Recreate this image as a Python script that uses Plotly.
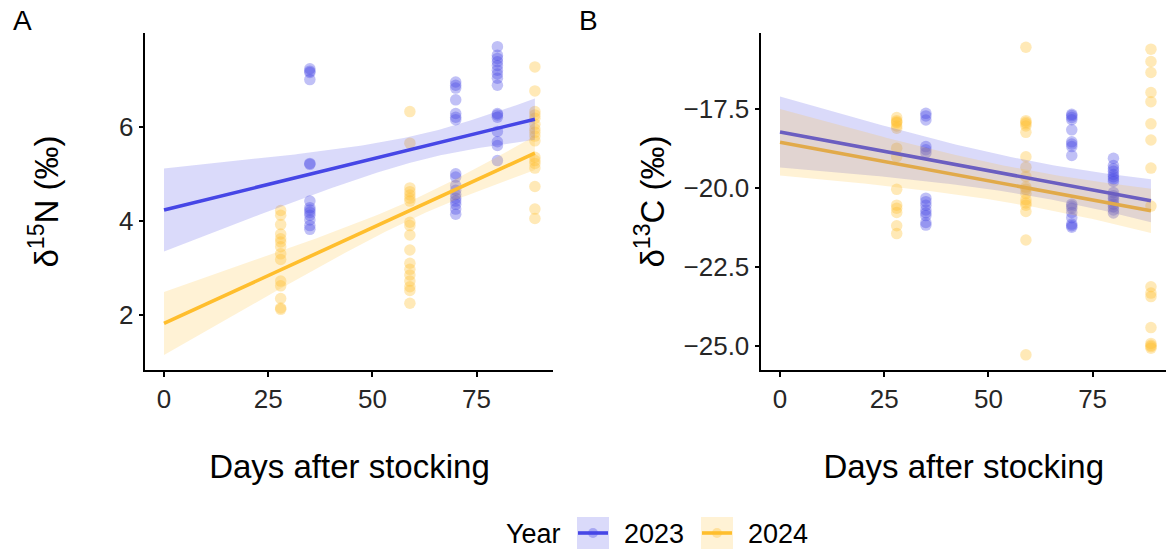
import numpy as np
import plotly.graph_objects as go

# ---------------- data ----------------
# Panel A: d15N, Panel B: d13C ; 2023 sampled on days 35, 70, 80 ; 2024 on 28, 59, 89
n15_2023_day35 = [7.23, 7.18, 7.15, 7.00, 5.22, 5.20, 4.42, 4.28, 4.23, 4.18, 4.12, 4.02, 3.90, 3.82]
n15_2023_day70 = [6.95, 6.88, 6.82, 6.57, 6.28, 6.20, 6.15, 5.00, 4.93, 4.75, 4.65, 4.56, 4.48, 4.42, 4.35, 4.25, 4.14]
n15_2023_day80 = [7.70, 7.52, 7.45, 7.38, 7.30, 7.20, 7.12, 7.03, 6.88, 6.28, 6.25, 6.20, 5.90, 5.68, 5.60, 5.28]
n15_2024_day28 = [4.22, 4.12, 3.92, 3.72, 3.62, 3.55, 3.45, 3.30, 3.18, 2.72, 2.62, 2.35, 2.15, 2.12]
n15_2024_day59 = [6.32, 5.65, 4.70, 4.62, 4.55, 4.48, 4.42, 3.97, 3.90, 3.70, 3.38, 3.10, 2.97, 2.85, 2.72, 2.60, 2.52, 2.25]
n15_2024_day89 = [7.27, 6.76, 6.32, 6.25, 6.18, 6.05, 5.95, 5.88, 5.80, 5.70, 5.35, 5.28, 5.22, 5.12, 4.73, 4.25, 4.05]

c13_2023_day35 = [-17.65, -17.73, -17.86, -18.70, -18.80, -18.90, -20.33, -20.44, -20.55, -20.70, -20.80, -20.88, -21.10, -21.18]
c13_2023_day70 = [-17.68, -17.72, -17.78, -17.85, -18.17, -18.55, -18.62, -18.70, -18.98, -20.52, -20.58, -20.65, -20.78, -20.95, -21.15, -21.20, -21.25]
c13_2023_day80 = [-19.07, -19.30, -19.40, -19.48, -19.58, -19.65, -19.72, -19.80, -20.15, -20.25, -20.33, -20.42, -20.52, -20.60, -20.70, -20.80]
c13_2024_day28 = [-17.78, -17.88, -17.92, -17.95, -18.05, -18.12, -18.75, -19.02, -20.05, -20.55, -20.65, -20.78, -21.20, -21.45]
c13_2024_day59 = [-15.56, -17.88, -17.93, -17.98, -18.05, -18.25, -19.02, -19.35, -19.65, -19.98, -20.05, -20.18, -20.38, -20.48, -20.55, -20.75, -21.65, -25.28]
c13_2024_day89 = [-15.62, -16.01, -16.36, -16.99, -17.28, -17.98, -18.49, -19.38, -20.58, -23.13, -23.33, -23.44, -24.42, -24.92, -24.98, -25.02, -25.07]

# fitted linear trends (values read at day 0 and day 89) and CI half-widths at those days
fit_days = [0, 89]
fitA_2023 = [4.23, 6.16]
fitA_2024 = [1.82, 5.44]
fitB_2023 = [-18.24, -20.41]
fitB_2024 = [-18.56, -20.73]
ciA_2023 = [0.88, 0.44]
ciA_2024 = [0.67, 0.36]
ciB_2023 = [1.12, 0.68]
ciB_2024 = [1.05, 0.70]

x_ticks = [0, 25, 50, 75]
yA_ticks = [2, 4, 6]
yB_ticks = [-25.0, -22.5, -20.0, -17.5]

# ---------------- styling ----------------
W, H = 1166, 552
BLUE = (70, 70, 230)
YEL = (255, 190, 45)
FONT = "Liberation Sans, Arial, sans-serif"


def rgba(c, a):
    return f"rgba({c[0]},{c[1]},{c[2]},{a})"


def px(x):
    return x / W


def py(y):
    return (H - y) / H


def stack(groups):
    xs, ys = [], []
    for d, vals in groups:
        xs += [d] * len(vals)
        ys += vals
    return np.array(xs, float), np.array(ys, float)


def band(xdata, fit, ci):
    c = float(np.mean(xdata))
    x0, x1 = fit_days
    k = (ci[0] ** 2 - ci[1] ** 2) / ((x0 - c) ** 2 - (x1 - c) ** 2)
    m2 = max(ci[1] ** 2 - k * (x1 - c) ** 2, 0.0)
    xx = np.linspace(x0, x1, 120)
    yy = np.interp(xx, fit_days, fit)
    hw = np.sqrt(m2 + k * (xx - c) ** 2)
    return xx, yy - hw, yy + hw


xA23, yA23 = stack([(35, n15_2023_day35), (70, n15_2023_day70), (80, n15_2023_day80)])
xA24, yA24 = stack([(28, n15_2024_day28), (59, n15_2024_day59), (89, n15_2024_day89)])
xB23, yB23 = stack([(35, c13_2023_day35), (70, c13_2023_day70), (80, c13_2023_day80)])
xB24, yB24 = stack([(28, c13_2024_day28), (59, c13_2024_day59), (89, c13_2024_day89)])

fig = go.Figure()

panels = [
    ("x", "y", [(xA23, yA23, fitA_2023, ciA_2023, BLUE, "2023"), (xA24, yA24, fitA_2024, ciA_2024, YEL, "2024")]),
    ("x2", "y2", [(xB23, yB23, fitB_2023, ciB_2023, BLUE, "2023"), (xB24, yB24, fitB_2024, ciB_2024, YEL, "2024")]),
]

for xa, ya, series in panels:
    # points
    for xs, ys, fit, ci, col, name in series:
        fig.add_trace(go.Scatter(x=xs, y=ys, mode="markers", xaxis=xa, yaxis=ya,
                                 marker=dict(size=11.5, color=rgba(col, 1), opacity=0.34, line=dict(width=0)),
                                 name=name, showlegend=False, hoverinfo="x+y"))
    # lines
    for xs, ys, fit, ci, col, name in series:
        fig.add_trace(go.Scatter(x=fit_days, y=fit, mode="lines", xaxis=xa, yaxis=ya,
                                 line=dict(color=rgba(col, 1), width=3.6), name=name, showlegend=False))
    # confidence ribbons (drawn on top, translucent)
    for xs, ys, fit, ci, col, name in series:
        bx, lo, hi = band(xs, fit, ci)
        fig.add_trace(go.Scatter(x=np.concatenate([bx, bx[::-1]]), y=np.concatenate([hi, lo[::-1]]),
                                 mode="lines", fill="toself", fillcolor=rgba(col, 0.2),
                                 line=dict(width=0), xaxis=xa, yaxis=ya, name=name,
                                 showlegend=False, hoverinfo="skip"))

axis_common = dict(showline=True, linecolor="black", linewidth=1.8, ticks="outside", ticklen=5,
                   tickwidth=1.8, tickcolor="black", showgrid=False, zeroline=False,
                   tickfont=dict(size=26, color="#262626", family=FONT))

ydom = [py(370), py(33)]
fig.update_layout(
    width=W, height=H, margin=dict(l=0, r=0, t=0, b=0),
    paper_bgcolor="white", plot_bgcolor="white",
    font=dict(family=FONT, color="black"),
    showlegend=False,
    xaxis=dict(domain=[px(145.45), px(553.45)], range=[-4.45, 93.45], tickvals=x_ticks,
               title=dict(text="Days after stocking", font=dict(size=33), standoff=42), anchor="y", **axis_common),
    yaxis=dict(domain=ydom, range=[0.832, 7.99], tickvals=yA_ticks,
               title=dict(text="δ<sup>15</sup>N (‰)", font=dict(size=33), standoff=50), anchor="x", **axis_common),
    xaxis2=dict(domain=[px(761.45), 1.0], range=[-4.45, 92.61], tickvals=x_ticks,
                title=dict(text="Days after stocking", font=dict(size=33), standoff=42), anchor="y2", **axis_common),
    yaxis2=dict(domain=ydom, range=[-25.76, -15.11], tickvals=yB_ticks, tickformat=".1f",
                title=dict(text="δ<sup>13</sup>C (‰)", font=dict(size=33), standoff=9), anchor="x2", **axis_common),
)

# panel tags
for txt, x in [("A", 11), ("B", 577)]:
    fig.add_annotation(text=txt, x=px(x), y=py(20), xref="paper", yref="paper", xanchor="left",
                       yanchor="middle", showarrow=False, font=dict(size=28, family=FONT, color="black"))

# legend (drawn manually to reproduce ggplot's keys)
fig.add_annotation(text="Year", x=px(504), y=py(534), xref="paper", yref="paper", xanchor="left",
                   yanchor="middle", showarrow=False, font=dict(size=27, family=FONT, color="black"))
for key_x, col, label in [(577, BLUE, "2023"), (701, YEL, "2024")]:
    fig.add_shape(type="rect", xref="paper", yref="paper", x0=px(key_x), x1=px(key_x + 32),
                  y0=py(549), y1=py(517), fillcolor=rgba(col, 0.2), line=dict(width=0))
    fig.add_shape(type="circle", xref="paper", yref="paper", x0=px(key_x + 11), x1=px(key_x + 21),
                  y0=py(538), y1=py(528), fillcolor=rgba(col, 0.34), line=dict(width=0))
    fig.add_shape(type="line", xref="paper", yref="paper", x0=px(key_x + 1), x1=px(key_x + 31),
                  y0=py(533), y1=py(533), line=dict(color=rgba(col, 1), width=3.6))
    fig.add_annotation(text=label, x=px(key_x + 45), y=py(534), xref="paper", yref="paper", xanchor="left",
                       yanchor="middle", showarrow=False, font=dict(size=27, family=FONT, color="black"))

fig.write_html("out.html")
